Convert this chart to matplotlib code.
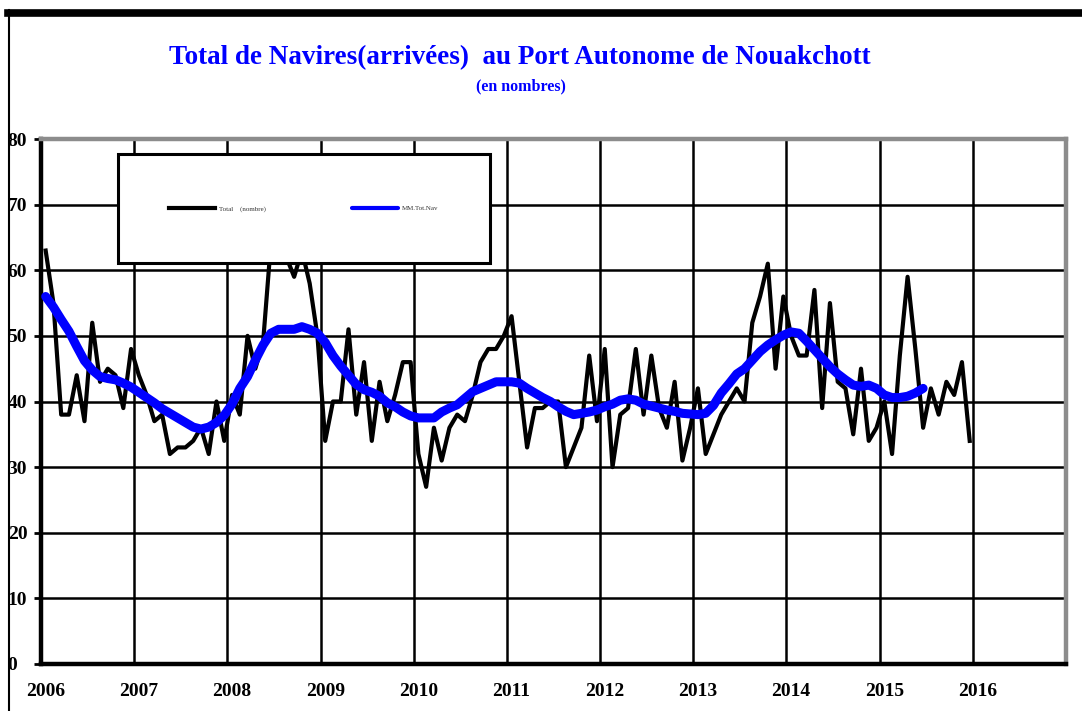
import numpy as np
import matplotlib
matplotlib.use("Agg")
import matplotlib.pyplot as plt
from matplotlib.lines import Line2D

# monthly arrivals, Jan 2006 - Dec 2015
years = [2006, 2007, 2008, 2009, 2010, 2011, 2012, 2013, 2014, 2015, 2016]
total = [63, 55, 38, 38, 44, 37, 52, 43, 45, 44, 39, 48,
         44, 41, 37, 38, 32, 33, 33, 34, 36, 32, 40, 34,
         41, 38, 50, 45, 49, 64, 63, 62, 59, 63, 58, 50,
         34, 40, 40, 51, 38, 46, 34, 43, 37, 41, 46, 46,
         32, 27, 36, 31, 36, 38, 37, 41, 46, 48, 48, 50,
         53, 43, 33, 39, 39, 40, 40, 30, 33, 36, 47, 37,
         48, 30, 38, 39, 48, 38, 47, 39, 36, 43, 31, 36,
         42, 32, 35, 38, 40, 42, 40, 52, 56, 61, 45, 56,
         50, 47, 47, 57, 39, 55, 43, 42, 35, 45, 34, 36,
         40, 32, 47, 59, 48, 36, 42, 38, 43, 41, 46, 34]
# moving average (MM.Tot.Nav), Jan 2006 - Jun 2015
mm = [56, 54.4, 52.5, 50.7, 48.4, 46.2, 44.8, 43.8, 43.5, 43.3, 42.8, 42.2,
      41.4, 40.6, 39.8, 38.9, 38.2, 37.5, 36.8, 36.1, 35.8, 36.1, 36.8, 37.9,
      39.6, 42.0, 43.8, 46.3, 48.6, 50.4, 51.0, 51.0, 51.0, 51.4, 51.0, 50.4,
      49.0, 47.0, 45.4, 44.0, 42.6, 41.8, 41.4, 40.8, 39.8, 39.2, 38.4, 37.8,
      37.5, 37.5, 37.5, 38.4, 39.0, 39.5, 40.5, 41.5, 42.0, 42.5, 43.0, 43.0,
      43.0, 42.8, 42.0, 41.3, 40.6, 40.0, 39.2, 38.5, 38.0, 38.2, 38.4, 38.7,
      39.2, 39.6, 40.2, 40.4, 40.2, 39.6, 39.3, 39.0, 38.7, 38.5, 38.2, 38.1,
      38.0, 38.2, 39.4, 41.3, 42.7, 44.2, 45.0, 46.3, 47.6, 48.6, 49.4, 50.1,
      50.6, 50.4, 49.2, 47.9, 46.6, 45.3, 44.2, 43.3, 42.5, 42.3, 42.5, 42.0,
      41.0, 40.6, 40.6, 40.8, 41.3, 42.0]

plt.rcParams['font.family'] = ['Liberation Serif', 'DejaVu Serif']

fig = plt.figure(figsize=(10.82, 7.11), dpi=100)
ax = fig.add_axes([41/1082, 47/711, 1025/1082, 525/711])

x_tot = np.arange(len(total)) + 0.6
x_mm = np.arange(len(mm)) + 0.6
ax.plot(x_tot, total, color='black', lw=3.0, label='Total    (nombre)', zorder=3)
ax.plot(x_mm, mm, color='#0000FF', lw=6.5, label='MM.Tot.Nav', zorder=4,
        solid_capstyle='round')

ax.set_xlim(0, 132)
ax.set_ylim(0, 80)
ax.set_xticks(range(0, 133, 12))
ax.set_xticklabels([])
ax.set_xticks([12*i + 0.6 for i in range(len(years))], minor=True)
ax.set_xticklabels([str(y) for y in years], minor=True, fontsize=14, fontweight='bold')
ax.tick_params(axis='x', which='both', length=0)
ax.tick_params(axis='x', which='minor', pad=14)

ax.set_yticks(range(0, 81, 10))
ax.set_yticklabels([str(v) for v in range(0, 81, 10)], fontsize=14, fontweight='bold')
ax.tick_params(axis='y', length=5, width=2, direction='out', pad=19)
for lbl in ax.get_yticklabels():
    lbl.set_horizontalalignment('left')

ax.grid(True, which='major', color='black', lw=1.8)
ax.set_axisbelow(True)
for s in ['left', 'bottom']:
    ax.spines[s].set_color('black')
    ax.spines[s].set_linewidth(3.2)
for s in ['top', 'right']:
    ax.spines[s].set_color('#8c8c8c')
    ax.spines[s].set_linewidth(3.2)

leg = ax.legend(loc='lower left', bbox_to_anchor=(0.0751, 0.764, 0.363, 0.2114),
                mode='expand', ncol=2, fontsize=5, borderpad=7.4, handlelength=6.6,
                handletextpad=0.6, fancybox=False, edgecolor='black', framealpha=1,
                borderaxespad=0)
leg.get_frame().set_linewidth(2.2)
leg.set_zorder(10)
for t in leg.get_texts():
    t.set_color('#333333')
for l in leg.get_lines():
    l.set_linewidth(3)

fig.text(520/1082, 1 - 58/711, 'Total de Navires(arrivées)  au Port Autonome de Nouakchott',
         ha='center', va='center', color='#0000FF', fontsize=19.5, fontweight='bold')
fig.text(521/1082, 1 - 86/711, '(en nombres)', ha='center', va='center',
         color='#0000FF', fontsize=11.5, fontweight='bold')

# chart frame
fig.add_artist(Line2D([8/1082, 1], [1 - 12.5/711, 1 - 12.5/711], color='black', lw=5.5,
                      transform=fig.transFigure))
fig.add_artist(Line2D([8.5/1082, 8.5/1082], [0, 1 - 10/711], color='black', lw=1.5,
                      transform=fig.transFigure))

fig.savefig('out.png', dpi=100)
